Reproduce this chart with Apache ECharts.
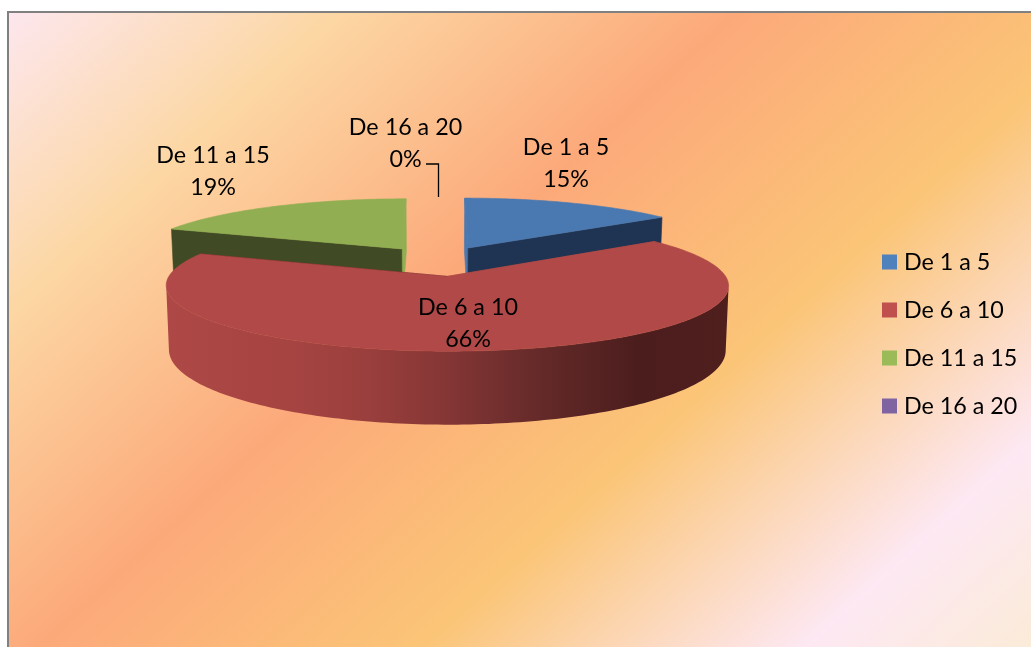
<!DOCTYPE html>
<html>
<head>
<meta charset="utf-8">
<style>html,body{margin:0;padding:0;background:#fff}#c{width:1031px;height:647px}</style>
<script src="https://cdn.jsdelivr.net/npm/echarts@6/dist/echarts.min.js"></script>
</head>
<body>
<div id="c"></div>
<script>
const categories = ['De 1 a 5', 'De 6 a 10', 'De 11 a 15', 'De 16 a 20'];
const values = [15, 66, 19, 0];

const legendColors = ['#4f81bd', '#c0504d', '#9bbb59', '#8064a2'];
const topColors = ['#4a78b0', '#b04947', '#91ae52', '#8064a2'];
const frontCutColors = ['#1f3452', '#5a2322', '#404a24', '#40304f'];
const labelCenters = [[566, 163.5], [468, 323], [213, 171.5], [405.5, 143.5]];
const seriesZ = [2, 4, 2, 3];

const P = {cx: 438.5, cy: 261, R: 269, S: 60, D: 61, p: 0.136, e: 0.25, base: 0.99};
const total = values.reduce((a, b) => a + b, 0);
const starts = values.map((v, i) => values.slice(0, i).reduce((a, b) => a + b, 0) / total * Math.PI * 2);

function project(X, Y, low) {
  const w = 1 + P.p * Y;
  const k = low ? P.base : 1;
  return [P.cx + k * P.R * X / w, P.cy - P.S * Y / w + (low ? P.D / w : 0)];
}
function poly(points, fill, edge) {
  return {type: 'polygon', shape: {points}, style: {fill, stroke: edge ? fill : null, lineWidth: 0.6}};
}
const wallFill = new echarts.graphic.LinearGradient(166, 0, 727, 0, [
  {offset: 0, color: '#ad4846'}, {offset: 0.22, color: '#a64442'},
  {offset: 0.36, color: '#9a3f3d'}, {offset: 0.5, color: '#843635'},
  {offset: 0.68, color: '#622928'}, {offset: 0.84, color: '#4c1d1d'},
  {offset: 1, color: '#4f1f1e'}
], true);

function renderSlice(params) {
  const i = params.seriesIndex;
  const share = values[i] / total * Math.PI * 2;
  const a0 = starts[i];
  const mid = a0 + share / 2;
  const ox = Math.sin(mid) * P.e, oy = Math.cos(mid) * P.e;
  const children = [];
  if (share > 0) {
    const arc = [];
    const n = Math.max(4, Math.ceil(share / 0.02));
    for (let k = 0; k <= n; k++) {
      const t = a0 + share * k / n;
      arc.push([ox + Math.sin(t), oy + Math.cos(t)]);
    }
    const apex = [ox, oy];
    const top = q => project(q[0], q[1], false);
    const low = q => project(q[0], q[1], true);
    if (share > Math.PI) {
      // outer wall: only the part between the left and right silhouette points faces the viewer
      const xs = arc.map(q => top(q)[0]);
      const from = xs.indexOf(Math.max(...xs));
      const to = xs.indexOf(Math.min(...xs));
      const front = arc.slice(from, to + 1);
      children.push(poly(front.map(top).concat(front.slice().reverse().map(low)), wallFill, false));
    }
    const first = arc[0], last = arc[arc.length - 1];
    const lightEdge = i === 2 ? last : first;
    const darkEdge = i === 2 ? first : last;
    children.push(poly([top(apex), top(lightEdge), low(lightEdge), low(apex)], topColors[i], true));
    children.push(poly([top(apex), top(darkEdge), low(darkEdge), low(apex)], frontCutColors[i], true));
    children.push(poly([top(apex)].concat(arc.map(top)), topColors[i], true));
  }
  const pct = Math.round(values[i] / total * 100) + '%';
  children.push({
    type: 'text', z2: 50,
    style: {
      x: labelCenters[i][0], y: labelCenters[i][1],
      text: categories[i] + '\n' + pct,
      fill: '#000', align: 'center', verticalAlign: 'middle',
      font: '23.3px Lato', lineHeight: 32
    }
  });
  if (values[i] === 0) {
    children.push({
      type: 'polyline',
      shape: {points: [[426, 164], [438.5, 164], [438.5, 197]]},
      style: {stroke: '#000', lineWidth: 1.3, fill: 'none'}
    });
  }
  return {type: 'group', children};
}

const chart = echarts.init(document.getElementById('c'), null, {renderer: 'canvas'});
chart.setOption({
  animation: false,
  backgroundColor: '#ffffff',
  graphic: [{
    type: 'rect', z: -10, silent: true,
    shape: {x: 8, y: 12, width: 1060, height: 670},
    style: {
      stroke: '#808080', lineWidth: 2,
      fill: new echarts.graphic.LinearGradient(0, 0, 789, 868, [
        {offset: 0, color: '#fde8f3'}, {offset: 0.2, color: '#fcd7a4'},
        {offset: 0.43, color: '#fca97a'}, {offset: 0.65, color: '#fbc577'},
        {offset: 0.87, color: '#fde8f3'}, {offset: 1, color: '#fbebd8'}
      ], true)
    }
  }],
  legend: {
    show: true, orient: 'vertical', left: 882, top: 250.5,
    itemWidth: 15, itemHeight: 15, itemGap: 25, padding: 0,
    icon: 'rect', selectedMode: false,
    data: categories,
    textStyle: {fontFamily: 'Lato', fontSize: 23.3, color: '#000', lineHeight: 15, padding: [0, 0, 0, 2]}
  },
  series: categories.map((name, i) => ({
    type: 'custom', name, coordinateSystem: 'none', z: seriesZ[i],
    itemStyle: {color: legendColors[i]},
    renderItem: renderSlice, silent: true,
    data: [values[i]]
  }))
});
</script>
</body>
</html>
